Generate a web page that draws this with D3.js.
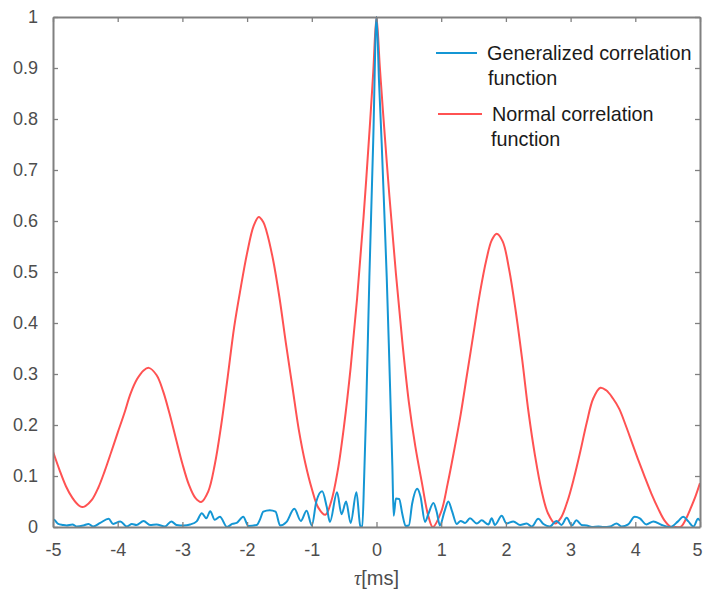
<!DOCTYPE html>
<html>
<head>
<meta charset="utf-8">
<script src="https://cdn.jsdelivr.net/npm/d3@7"></script>
<style>
  html, body { margin: 0; padding: 0; background: #fff; }
  svg { display: block; }
</style>
</head>
<body>
<svg id="chart" width="703" height="595"></svg>
<script>
// ---------------- data ----------------
const xTicks = [-5, -4, -3, -2, -1, 0, 1, 2, 3, 4, 5];
const yTicks = [0, 0.1, 0.2, 0.3, 0.4, 0.5, 0.6, 0.7, 0.8, 0.9, 1];
const xLabel = "[ms]";
const xSymbol = "τ";
const seriesNames = ["Generalized correlation", "Normal correlation"];
const seriesNames2 = ["function", "function"];

// Normal correlation function (red)
const redTau = [
  -5.00, -4.90, -4.80, -4.70, -4.60, -4.55, -4.50, -4.40, -4.30, -4.20, -4.10, -4.00, -3.90,
  -3.80, -3.70, -3.60, -3.52, -3.40, -3.30, -3.20, -3.10, -3.00, -2.90, -2.80, -2.71,
  -2.60, -2.50, -2.40, -2.30, -2.20, -2.10, -2.00, -1.90, -1.82,
  -1.75, -1.70, -1.60, -1.50, -1.40, -1.30, -1.20, -1.10, -1.00, -0.90, -0.79,
  -0.70, -0.60, -0.50, -0.40, -0.30, -0.20, -0.10, -0.05, 0.00, 0.05, 0.10, 0.20, 0.30, 0.40,
  0.50, 0.60, 0.70, 0.80, 0.87,
  1.00, 1.10, 1.20, 1.30, 1.40, 1.50, 1.60, 1.70, 1.78, 1.857,
  1.95, 2.05, 2.15, 2.25, 2.35, 2.45, 2.55, 2.65, 2.76,
  2.85, 2.95, 3.05, 3.15, 3.25, 3.35, 3.46,
  3.55, 3.65, 3.75, 3.85, 3.95, 4.05, 4.15, 4.25, 4.35, 4.45, 4.55, 4.62, 4.70,
  4.78, 4.85, 4.93, 5.00
];
const redVal = [
  0.148, 0.112, 0.080, 0.057, 0.042, 0.039, 0.041, 0.053, 0.077, 0.110, 0.147, 0.185, 0.222,
  0.262, 0.290, 0.307, 0.312, 0.298, 0.267, 0.223, 0.173, 0.124, 0.083, 0.057, 0.049,
  0.070, 0.122, 0.200, 0.294, 0.392, 0.468, 0.537, 0.590, 0.608,
  0.598, 0.580, 0.525, 0.450, 0.360, 0.275, 0.190, 0.125, 0.075, 0.038, 0.024,
  0.050, 0.110, 0.200, 0.312, 0.448, 0.608, 0.792, 0.893, 1.000, 0.905, 0.815, 0.648, 0.497, 0.362,
  0.245, 0.158, 0.088, 0.022, 0.000,
  0.030, 0.085, 0.150, 0.220, 0.300, 0.380, 0.460, 0.525, 0.562, 0.575,
  0.560, 0.505, 0.425, 0.330, 0.225, 0.140, 0.072, 0.027, 0.007,
  0.018, 0.050, 0.095, 0.148, 0.205, 0.252, 0.273,
  0.268, 0.253, 0.232, 0.200, 0.165, 0.130, 0.097, 0.065, 0.037, 0.013, 0.000, 0.000, 0.000,
  0.015, 0.035, 0.060, 0.086
];

// Generalized correlation function (blue)
const blueTau = [
  -5.00, -4.98, -4.92, -4.85, -4.79, -4.70, -4.63, -4.53, -4.45, -4.38, -4.27, -4.14, -4.07,
  -3.96, -3.86, -3.78, -3.71, -3.60, -3.50, -3.40, -3.27, -3.17, -3.09, -2.98, -2.88, -2.78,
  -2.70, -2.63, -2.57, -2.50, -2.42, -2.31, -2.23, -2.16, -2.06, -1.98, -1.85, -1.80, -1.75,
  -1.65, -1.56, -1.49, -1.39, -1.27, -1.17, -1.08, -1.00, -0.93, -0.84, -0.77, -0.72, -0.61,
  -0.54, -0.47, -0.40, -0.31, -0.25, -0.22, -0.19, -0.16, -0.11, -0.05, 0.00, 0.04, 0.08,
  0.12, 0.158, 0.19, 0.22, 0.245, 0.265, 0.30, 0.35, 0.40, 0.45, 0.50, 0.55, 0.63, 0.68,
  0.75, 0.80, 0.88, 0.93, 0.98, 1.05, 1.11, 1.17, 1.24, 1.30, 1.37, 1.445, 1.55, 1.625, 1.73,
  1.78, 1.83, 1.935, 2.01, 2.115, 2.22, 2.32, 2.40, 2.50, 2.58, 2.68, 2.78, 2.86, 2.94, 3.02,
  3.09, 3.17, 3.25, 3.33, 3.43, 3.51, 3.61, 3.71, 3.79, 3.89, 3.99, 4.07, 4.17, 4.28, 4.41,
  4.54, 4.66, 4.74, 4.82, 4.90, 4.97, 5.00
];
const blueVal = [
  0.015, 0.014, 0.006, 0.004, 0.003, 0.005, 0.001, 0.003, 0.006, 0.001, 0.008, 0.016, 0.006,
  0.011, 0.001, 0.006, 0.004, 0.012, 0.004, 0.005, 0.001, 0.011, 0.004, 0.003, 0.005, 0.011,
  0.027, 0.017, 0.031, 0.014, 0.020, 0.000, 0.006, 0.008, 0.020, 0.002, 0.004, 0.015, 0.030,
  0.033, 0.030, 0.003, 0.010, 0.036, 0.012, 0.032, 0.003, 0.050, 0.070, 0.040, 0.010, 0.068,
  0.025, 0.050, 0.008, 0.068, 0.002, 0.000, 0.100, 0.229, 0.490, 0.760, 1.000, 0.870, 0.753,
  0.620, 0.490, 0.360, 0.229, 0.120, 0.022, 0.056, 0.055, 0.025, 0.002, 0.003, 0.045, 0.075,
  0.060, 0.010, 0.025, 0.047, 0.030, 0.003, 0.030, 0.050, 0.030, 0.006, 0.012, 0.008, 0.017,
  0.007, 0.013, 0.005, 0.017, 0.004, 0.022, 0.007, 0.011, 0.004, 0.007, 0.001, 0.016, 0.006,
  0.001, 0.012, 0.004, 0.018, 0.003, 0.013, 0.004, 0.003, 0.000, 0.001, 0.000, 0.001, 0.007,
  0.001, 0.005, 0.020, 0.017, 0.005, 0.011, 0.004, 0.000, 0.011, 0.020, 0.011, 0.001, 0.016,
  0.012
];

// ---------------- drawing ----------------
const svg = d3.select("#chart");
const plot = { left: 53, right: 700, top: 17, bottom: 527 };

const x = d3.scaleLinear().domain([-5, 5]).range([plot.left, plot.right]);
const y = d3.scaleLinear().domain([0, 1]).range([plot.bottom, plot.top]);

const axisColor = "#808080";
const labelColor = "#4d4d4d";
const font = "'Liberation Sans', Arial, sans-serif";
const blueColor = "#1496d4";
const redColor = "#ff5252";

svg.append("defs").append("clipPath").attr("id", "clip")
  .append("rect")
  .attr("x", plot.left).attr("y", plot.top - 2)
  .attr("width", plot.right - plot.left).attr("height", plot.bottom - plot.top + 2);

const redLine = d3.line().curve(d3.curveCatmullRom.alpha(0.5))
  .x(d => x(d[0])).y(d => y(d[1]));
const blueLine = d3.line().curve(d3.curveMonotoneX)
  .x(d => x(d[0])).y(d => y(d[1]));

const redData = redTau.map((t, i) => [t, redVal[i]]);
const blueData = blueTau.map((t, i) => [t, blueVal[i]]);

const g = svg.append("g").attr("clip-path", "url(#clip)");
g.append("path").datum(redData)
  .attr("d", redLine).attr("fill", "none")
  .attr("stroke", redColor).attr("stroke-width", 2).attr("stroke-linejoin", "round");
g.append("path").datum(blueData)
  .attr("d", blueLine).attr("fill", "none")
  .attr("stroke", blueColor).attr("stroke-width", 2).attr("stroke-linejoin", "round");

function styleAxis(sel) {
  sel.select(".domain").attr("stroke", axisColor).attr("stroke-width", 2);
  sel.selectAll(".tick line").attr("stroke", axisColor).attr("stroke-width", 1.3);
  sel.selectAll(".tick text").attr("fill", labelColor)
    .style("font-family", font).style("font-size", "18px");
}

const xAxis = svg.append("g").attr("transform", `translate(0,${plot.bottom})`)
  .call(d3.axisBottom(x).tickValues(xTicks).tickSizeInner(-5).tickSizeOuter(0).tickPadding(16).tickFormat(d => String(d)));
styleAxis(xAxis);
// keep the last label inside the window
xAxis.selectAll(".tick text").filter(d => d === 5).attr("dx", -3);

const yAxis = svg.append("g").attr("transform", `translate(${plot.left},0)`)
  .call(d3.axisLeft(y).tickValues(yTicks).tickSizeInner(-5).tickSizeOuter(0).tickPadding(15).tickFormat(d => String(d)));
styleAxis(yAxis);

const xAxisTop = svg.append("g").attr("transform", `translate(0,${plot.top})`)
  .call(d3.axisTop(x).tickValues(xTicks).tickSizeInner(-5).tickSizeOuter(0).tickFormat(""));
styleAxis(xAxisTop);

const yAxisRight = svg.append("g").attr("transform", `translate(${plot.right},0)`)
  .call(d3.axisRight(y).tickValues(yTicks).tickSizeInner(-5).tickSizeOuter(0).tickFormat(""));
styleAxis(yAxisRight);

// x label
const xl = svg.append("text")
  .attr("x", x(0)).attr("y", 585)
  .attr("text-anchor", "middle")
  .attr("fill", labelColor)
  .style("font-family", font).style("font-size", "20px");
xl.append("tspan").attr("font-style", "italic").style("font-family", "'Liberation Serif', 'Times New Roman', serif").text(xSymbol);
xl.append("tspan").text(xLabel);

// legend
const legendColors = [blueColor, redColor];
const legendItems = [
  { lx1: 436, lx2: 477, ly: 53, tx: 487, ty1: 60, tx2: 488, ty2: 85 },
  { lx1: 438, lx2: 482, ly: 114, tx: 492, ty1: 121, tx2: 491, ty2: 146 }
];
legendItems.forEach((it, i) => {
  svg.append("line")
    .attr("x1", it.lx1).attr("x2", it.lx2).attr("y1", it.ly).attr("y2", it.ly)
    .attr("stroke", legendColors[i]).attr("stroke-width", 2);
  svg.append("text").attr("x", it.tx).attr("y", it.ty1)
    .attr("fill", "#1a1a1a").style("font-family", font).style("font-size", "19.8px")
    .text(seriesNames[i]);
  svg.append("text").attr("x", it.tx2).attr("y", it.ty2)
    .attr("fill", "#1a1a1a").style("font-family", font).style("font-size", "19.8px")
    .text(seriesNames2[i]);
});
</script>
</body>
</html>
